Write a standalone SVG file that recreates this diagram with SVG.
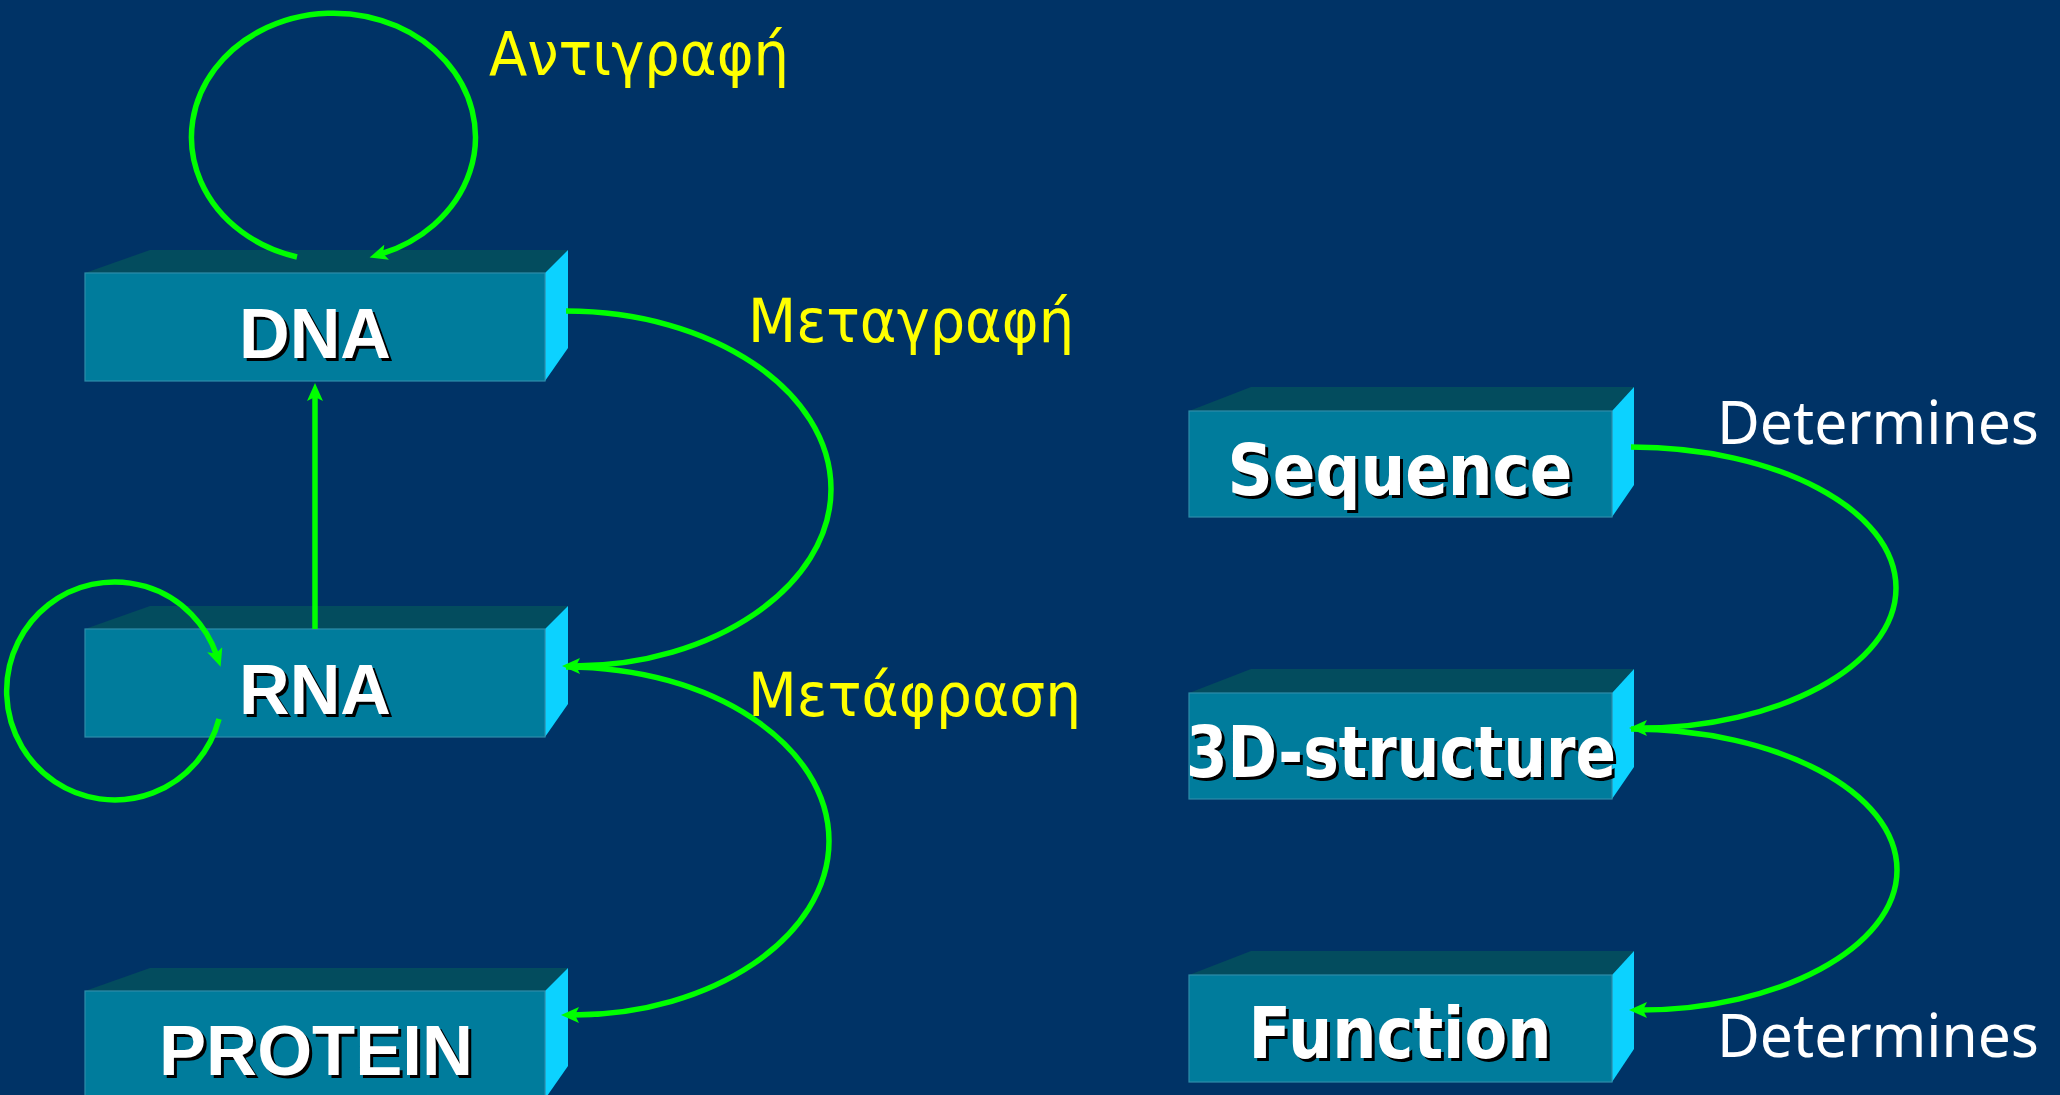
<svg xmlns="http://www.w3.org/2000/svg" width="2060" height="1095" viewBox="0 0 2060 1095">
<style>
.front{fill:#007C9C;stroke:#2E8DAA;stroke-width:1.2}
.top{fill:#034C5E}
.side{fill:#0CD2FF}
.lblA{font-family:"Liberation Sans",Arial,sans-serif;font-weight:bold;font-size:70px;text-anchor:middle}
.lblB{font-family:"DejaVu Sans",Verdana,sans-serif;font-weight:bold;font-size:71px;text-anchor:middle}
.fg{fill:#FFFFFF}
.sh{fill:#000000}
.gk{font-family:"DejaVu Sans",Verdana,sans-serif;font-size:60px;fill:#FFFF00}
.det{font-family:"Noto Sans","DejaVu Sans",sans-serif;font-size:60px;fill:#FFFFFF}
.conn{fill:none;stroke:#00FF00;stroke-width:5.5}
</style>
<defs>
<marker id="ah" markerUnits="userSpaceOnUse" markerWidth="18" markerHeight="16" viewBox="0 0 18 16" refX="6" refY="8" orient="auto">
<path d="M0,0 L18,8 L0,16 L4,8 z" fill="#00FF00"/>
</marker>
</defs>
<rect x="0" y="0" width="2060" height="1095" fill="#003366"/>

<g id="node-dna">
<polygon class="top" points="85,273 150,250 568,250 545,273"/>
<polygon class="side" points="545,273 568,250 568,348 545,381"/>
<rect class="front" x="85" y="273" width="460" height="108"/>
<text class="lblA sh" x="318" y="361" textLength="152" lengthAdjust="spacingAndGlyphs">DNA</text>
<text class="lblA fg" x="315" y="358" textLength="152" lengthAdjust="spacingAndGlyphs">DNA</text>
</g>

<g id="node-rna">
<polygon class="top" points="85,629 150,606 568,606 545,629"/>
<polygon class="side" points="545,629 568,606 568,704 545,737"/>
<rect class="front" x="85" y="629" width="460" height="108"/>
<text class="lblA sh" x="318" y="717" textLength="152" lengthAdjust="spacingAndGlyphs">RNA</text>
<text class="lblA fg" x="315" y="714" textLength="152" lengthAdjust="spacingAndGlyphs">RNA</text>
</g>

<g id="node-protein">
<polygon class="top" points="85,991 150,968 568,968 545,991"/>
<polygon class="side" points="545,991 568,968 568,1066 545,1099"/>
<rect class="front" x="85" y="991" width="460" height="108"/>
<text class="lblA sh" x="319" y="1078" textLength="314" lengthAdjust="spacingAndGlyphs">PROTEIN</text>
<text class="lblA fg" x="316" y="1075" textLength="314" lengthAdjust="spacingAndGlyphs">PROTEIN</text>
</g>

<g id="node-sequence">
<polygon class="top" points="1189,411 1251,387 1634,387 1612,411"/>
<polygon class="side" points="1612,411 1634,387 1634,485 1612,517"/>
<rect class="front" x="1189" y="411" width="423" height="106"/>
<text class="lblB sh" x="1403" y="498" textLength="345" lengthAdjust="spacingAndGlyphs">Sequence</text>
<text class="lblB fg" x="1400" y="495" textLength="345" lengthAdjust="spacingAndGlyphs">Sequence</text>
</g>

<g id="node-structure">
<polygon class="top" points="1189,693 1251,669 1634,669 1612,693"/>
<polygon class="side" points="1612,693 1634,669 1634,767 1612,799"/>
<rect class="front" x="1189" y="693" width="423" height="106"/>
<text class="lblB sh" x="1404" y="780" textLength="430" lengthAdjust="spacingAndGlyphs">3D-structure</text>
<text class="lblB fg" x="1401" y="777" textLength="430" lengthAdjust="spacingAndGlyphs">3D-structure</text>
</g>

<g id="node-function">
<polygon class="top" points="1189,975 1251,951 1634,951 1612,975"/>
<polygon class="side" points="1612,975 1634,951 1634,1049 1612,1082"/>
<rect class="front" x="1189" y="975" width="423" height="107"/>
<text class="lblB sh" x="1403" y="1061" textLength="303" lengthAdjust="spacingAndGlyphs">Function</text>
<text class="lblB fg" x="1400" y="1058" textLength="303" lengthAdjust="spacingAndGlyphs">Function</text>
</g>

<g id="connectors">
<path class="conn" marker-end="url(#ah)" d="M297,257 A142,124 0 1,1 381,254"/>
<path class="conn" marker-end="url(#ah)" d="M315,629 L315,395"/>
<path class="conn" marker-end="url(#ah)" d="M566,311 C712,311 831,391 831,489 C831,587 712,666 574,666"/>
<path class="conn" marker-end="url(#ah)" d="M566,667 C712,667 829,745 829,841 C829,937 712,1015 573,1015"/>
<path class="conn" marker-end="url(#ah)" d="M219,719 A108,109 0 1,1 216.7,655.3"/>
<path class="conn" marker-end="url(#ah)" d="M1631,447 C1777,447 1896,510 1896,588 C1896,666 1777,728 1641,728"/>
<path class="conn" marker-end="url(#ah)" d="M1631,729 C1777,729 1897,792 1897,870 C1897,948 1777,1010 1641,1010"/>
</g>

<g id="labels">
<text class="gk" x="489" y="75" textLength="300" lengthAdjust="spacingAndGlyphs">Αντιγραφή</text>
<text class="gk" x="748" y="342" textLength="326" lengthAdjust="spacingAndGlyphs">Μεταγραφή</text>
<text class="gk" x="748" y="716" textLength="333" lengthAdjust="spacingAndGlyphs">Μετάφραση</text>
<text class="det" x="1717" y="444" textLength="322" lengthAdjust="spacingAndGlyphs">Determines</text>
<text class="det" x="1717" y="1057" textLength="322" lengthAdjust="spacingAndGlyphs">Determines</text>
</g>
</svg>
